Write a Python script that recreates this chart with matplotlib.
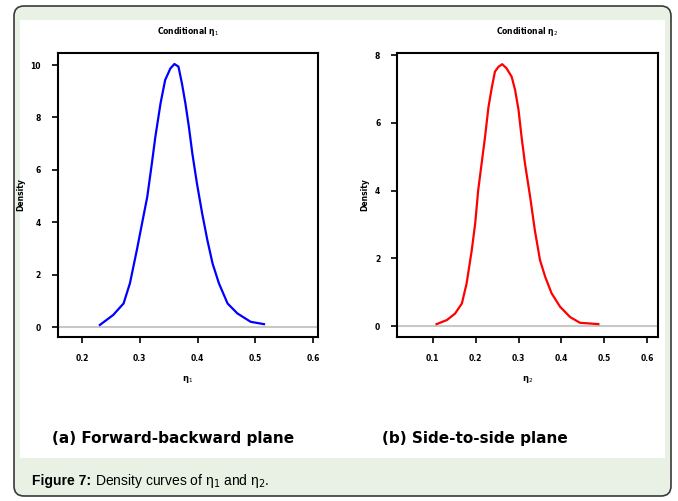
import numpy as np
import matplotlib.pyplot as plt
from matplotlib.patches import FancyBboxPatch, Rectangle

# density curve of eta_1
x_eta1 = [0.231, 0.254, 0.272, 0.283, 0.295, 0.304, 0.313, 0.321, 0.327, 0.336,
          0.344, 0.353, 0.360, 0.367, 0.373, 0.379, 0.385, 0.391, 0.399, 0.408,
          0.417, 0.426, 0.437, 0.452, 0.469, 0.492, 0.515]
d_eta1 = [0.08, 0.46, 0.90, 1.67, 2.94, 3.96, 4.97, 6.25, 7.26, 8.54,
          9.43, 9.87, 10.04, 9.94, 9.30, 8.54, 7.65, 6.63, 5.48, 4.34,
          3.32, 2.43, 1.67, 0.90, 0.52, 0.20, 0.11]

# density curve of eta_2
x_eta2 = [0.109, 0.133, 0.152, 0.168, 0.179, 0.191, 0.199, 0.206, 0.214, 0.222,
          0.230, 0.238, 0.245, 0.253, 0.262, 0.272, 0.284, 0.292, 0.300, 0.307,
          0.315, 0.327, 0.338, 0.350, 0.362, 0.377, 0.397, 0.420, 0.443, 0.486]
d_eta2 = [0.06, 0.18, 0.37, 0.67, 1.26, 2.24, 3.03, 4.01, 4.80, 5.59,
          6.47, 7.06, 7.51, 7.65, 7.73, 7.61, 7.36, 6.97, 6.38, 5.59,
          4.80, 3.82, 2.83, 1.95, 1.46, 0.97, 0.57, 0.27, 0.10, 0.06]

xticks1 = [0.2, 0.3, 0.4, 0.5, 0.6]
yticks1 = [0, 2, 4, 6, 8, 10]
xticks2 = [0.1, 0.2, 0.3, 0.4, 0.5, 0.6]
yticks2 = [0, 2, 4, 6, 8]

W, H = 678, 501
fig = plt.figure(figsize=(W / 100, H / 100), dpi=100)

# background frame in pixel units
bg = fig.add_axes([0, 0, 1, 1])
bg.set_xlim(0, W)
bg.set_ylim(H, 0)
bg.axis('off')
bg.add_patch(FancyBboxPatch((14, 6), 657, 490, boxstyle='round,pad=0,rounding_size=10',
                            facecolor='#e9f1e5', edgecolor='#3a3a3a', linewidth=1.2))
bg.add_patch(Rectangle((20, 20), 645, 438, facecolor='white', edgecolor='none'))

# sub-captions
bg.text(52, 439, '(a) Forward-backward plane', fontsize=11, fontweight='bold',
        va='center', ha='left')
bg.text(382, 439, '(b) Side-to-side plane', fontsize=11, fontweight='bold',
        va='center', ha='left')

# figure caption
t = bg.text(32, 481, 'Figure 7:', fontsize=10, fontweight='bold', family='Liberation Sans',
            va='center', ha='left')
fig.canvas.draw()
ext = t.get_window_extent()
bg.text(ext.x1 + 4, 481, 'Density curves of η$_1$ and η$_2$.', fontsize=10,
        family='Liberation Sans', va='center', ha='left')


def panel(rect, x, d, color, xt, yt, xlim, ylim, title, xl):
    ax = fig.add_axes(rect)
    ax.axhline(0, color='#c8c8c8', lw=1.5, zorder=1)
    ax.plot(x, d, color=color, lw=1.6, zorder=2)
    ax.set_xlim(*xlim)
    ax.set_ylim(*ylim)
    ax.set_xticks(xt)
    ax.set_yticks(yt)
    ax.tick_params(direction='out', length=4, width=1.2, labelsize=5.5, pad=8)
    for lab in ax.get_xticklabels() + ax.get_yticklabels():
        lab.set_fontweight('bold')
    for s in ax.spines.values():
        s.set_linewidth(1.5)
    ax.set_title(title, fontsize=5.5, fontweight='bold', pad=14)
    ax.set_ylabel('Density', fontsize=5.5, fontweight='bold')
    ax.set_xlabel(xl, fontsize=6, fontweight='bold', labelpad=8)
    return ax


panel([57.7 / W, 1 - 337 / H, 260 / W, 284 / H], x_eta1, d_eta1, 'blue',
      xticks1, yticks1, (0.158, 0.608), (-0.38, 10.46),
      'Conditional η$_1$', 'η$_1$')
panel([397 / W, 1 - 337 / H, 261 / W, 284 / H], x_eta2, d_eta2, 'red',
      xticks2, yticks2, (0.0168, 0.625), (-0.32, 8.06),
      'Conditional η$_2$', 'η$_2$')

plt.savefig('out.png', dpi=100)
